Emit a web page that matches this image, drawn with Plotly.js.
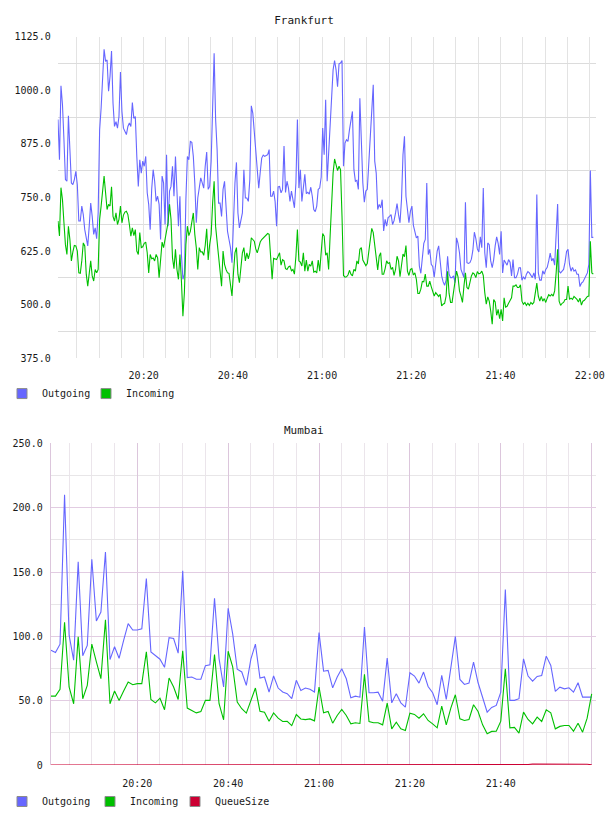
<!DOCTYPE html>
<html>
<head>
<meta charset="utf-8">
<script src="https://cdn.plot.ly/plotly-3.0.1.min.js"></script>
<style>
  html, body { margin: 0; padding: 0; background: #fff; }
  #chart { width: 608px; height: 816px; }
</style>
</head>
<body>
<div id="chart"></div>
<script>
// ---- Frankfurt: one sample every 20 s ----
const frankfurtStart = '2024-01-01 20:00:48';
const frankfurtStepSec = 20;
const frankfurtOutgoing = [
  932, 838, 1011, 967, 885, 792, 788, 941, 862, 784,
  780, 792, 811, 780, 695, 695, 730, 710, 675, 656,
  637, 683, 737, 706, 664, 679, 654, 714, 908, 959,
  1025, 1096, 1068, 1071, 998, 1033, 1092, 970, 916, 927,
  912, 939, 1043, 951, 912, 904, 897, 916, 924, 916,
  972, 935, 939, 846, 776, 838, 807, 835, 823, 846,
  761, 734, 675, 769, 815, 788, 741, 753, 734, 652,
  800, 784, 687, 850, 683, 765, 776, 823, 753, 846,
  745, 683, 753, 617, 559, 571, 745, 846, 838,
  881, 879, 846, 784, 691, 749, 772, 796, 784, 772,
  823, 856, 769, 776, 835, 978, 1087, 932, 862, 737,
  737, 706, 769, 788, 710, 671, 652, 633, 598, 699,
  784, 832, 714, 679, 699, 714, 815, 749, 749, 741,
  792, 964, 947, 904, 846, 796, 772, 809, 842, 849,
  846, 848, 850, 862, 753, 753, 765, 741, 683, 775,
  776, 761, 769, 870, 762, 788, 772, 741, 765, 745,
  726, 784, 932, 772, 815, 741, 776, 804, 759, 762,
  758, 774, 753, 722, 717, 730, 769, 772, 798, 912,
  850,
  978, 788, 846, 904, 967, 1048, 1070, 1048, 1009, 1062,
  1064, 1070, 823, 877, 885, 881, 908, 936, 951, 815,
  788, 790, 769, 982, 862, 784, 739, 765, 769, 838,
  901, 970, 1013, 835, 807, 722, 734, 726, 745, 672,
  699, 683, 703, 706, 710, 687, 696, 714, 736, 710,
  691, 745, 850, 893, 753, 722, 691, 718, 730, 685,
  668, 656, 660, 590, 573, 605, 643, 652, 784, 617,
  629, 594, 589, 564, 592, 625, 637, 598, 567, 553,
  545, 557, 613, 571, 563, 563, 567, 551, 656, 643,
  621,
  582, 571, 563, 739, 598, 596, 598, 606, 627, 669,
  654, 630, 623, 658, 633, 772, 621, 586, 644, 640,
  602, 586, 605, 637, 658, 643, 617, 671, 574, 604,
  599, 592, 605, 599, 567, 605, 563, 563, 571, 586,
  586, 557, 565, 559, 571, 577, 574, 568, 563, 574,
  559, 757, 574, 557, 557, 579, 571, 582, 587, 602,
  620, 602, 608, 592, 668, 735, 578, 574, 578, 582,
  599, 624, 629, 594, 578, 587, 578, 581, 571, 571,
  542, 550, 553, 559, 567, 574, 594, 813, 657, 657
];
const frankfurtIncoming = [
  695, 660, 773, 745, 691, 640, 617, 683, 652, 602,
  623, 638, 637, 625, 574, 573, 602, 644, 637, 571,
  543, 574, 602, 567, 555, 582, 574, 582, 699, 730,
  769, 800, 761, 722, 734, 730, 775, 706, 695, 714,
  687, 699, 730, 691, 709, 716, 718, 710, 687, 660,
  679, 661, 675, 625, 617, 668, 633, 635, 643, 646,
  621, 574, 617, 607, 609, 602, 617, 609, 563, 602,
  646, 633, 652, 664, 691, 734, 699, 609, 584, 629,
  582, 559, 617, 555, 473, 528, 640, 683, 661,
  671, 695, 714, 664, 633, 582, 633, 623, 623, 615,
  638, 677, 604, 640, 664, 738, 788, 682, 644, 621,
  574, 543, 625, 594, 582, 574, 573, 547, 520, 574,
  621, 633, 571, 551, 582, 621, 633, 602, 621, 607,
  621, 656, 652, 648, 630, 621, 633, 646, 652, 656,
  660, 664, 666, 664, 613, 559, 608, 607, 605, 613,
  621, 592, 605, 602, 584, 582, 588, 590, 579, 582,
  571, 613, 675, 602, 599, 590, 621, 578, 604, 578,
  594, 590, 602, 576, 578, 574, 604, 578, 627, 666,
  660,
  615, 621, 582, 660, 741, 807, 840, 829, 813, 823,
  815, 706, 568, 564, 565, 569, 580, 571, 567, 582,
  578, 602, 595, 629, 633, 604, 596, 591, 596, 621,
  656, 678, 668, 640, 605, 581, 613, 621, 571, 571,
  584, 602, 596, 598, 582, 587, 568, 582, 613, 602,
  565, 588, 618, 612, 638, 578, 568, 582, 584, 569,
  574, 559, 526, 526, 536, 554, 553, 571, 543, 543,
  555, 542, 529, 520, 528, 523, 519, 524, 497, 501,
  503, 520, 578, 526, 505, 505, 529, 551, 578, 565,
  532,
  520, 505, 543, 574, 540, 536, 551, 567, 574, 571,
  563, 577, 572, 573, 578, 568, 528, 501, 518, 508,
  485, 454, 512, 506, 475, 489, 467, 489, 462, 516,
  494, 496, 503, 508, 516, 543, 543, 546, 540, 540,
  546, 508, 501, 505, 498, 503, 498, 505, 501, 505,
  524, 550, 520, 508, 519, 508, 514, 505, 515, 523,
  520, 524, 520, 532, 574, 629, 508, 498, 503, 505,
  512, 512, 543, 512, 515, 512, 519, 516, 512, 506,
  515, 499, 508, 510, 516, 519, 520, 648, 574, 571
];
const frankfurtTicks = ['20:20', '20:40', '21:00', '21:20', '21:40', '22:00'];
const frankfurtYTicks = [375, 500, 625, 750, 875, 1000, 1125];

// ---- Mumbai: one sample per minute ----
const mumbaiStart = '2024-01-01 20:01:00';
const mumbaiStepSec = 60;
const mumbaiOutgoing = [
  89.3, 87.5, 94, 210, 101, 81.5, 158, 85, 93, 160,
  112, 119, 165.6, 82, 92, 83, 97, 110, 105, 105,
  106, 145, 88, 85.4, 82.3, 76, 99, 98.4, 87, 151,
  68, 68.5, 66.7, 66.7, 77.3, 78, 129.7, 82.8, 60.7, 121.9,
  102, 74.5, 72.4, 62, 82.3, 94, 67.7, 68.5, 56.8, 69.3,
  59.9, 56.8, 55.5, 51.6, 65.9, 58, 59.9, 58.9, 56.8, 103,
  73, 73.6, 60, 68.4, 74.9, 67.1, 52.3, 53.6, 52.8, 107.3,
  56.2, 56.2, 56.7, 49.7, 83.2, 48.4, 55.4, 48.4, 45, 71.8,
  69.2, 63.7, 72.3, 61.1, 56.2, 46.9, 69.7, 51, 74.9, 100,
  66.6, 62.7, 63.7, 80, 64, 52.8, 41.2, 44.8, 46.4, 56.7,
  136.5, 50.3, 50.3, 51.6, 82.6, 69.2, 65.3, 68.9, 69.7, 84.7,
  77.5, 57.3, 60.6, 59.3, 60.1, 56.7, 64, 52.8, 52.8, 52.8
];
const mumbaiIncoming = [
  53.6, 53.6, 58.9, 111, 60.7, 47.7, 99.7, 51.6, 62, 94,
  80.2, 67.2, 113, 47.7, 57.6, 50.3, 57.6, 64.6, 62.5, 63.3,
  63.3, 88, 51, 48.4, 52, 43, 67.7, 60.7, 51, 88.8,
  44.3, 42.4, 40.6, 41.7, 50.3, 50.3, 86, 47.7, 35.2, 88.5,
  76.3, 49, 43.8, 40.4, 50.3, 59.9, 41.9, 41.1, 34.1, 40.6,
  36.5, 33.9, 34.1, 30.7, 39.3, 35.9, 35.4, 35.9, 34.4, 60.7,
  40.7, 41.7, 32.6, 38.6, 43.3, 38.6, 32.1, 32.9, 32.4, 70.5,
  33.9, 32.9, 32.9, 31.3, 48.2, 28.2, 33.4, 28.2, 26.9, 40.4,
  39.4, 36.5, 39.9, 34.7, 32.1, 29, 45.9, 31.3, 44.3, 54.7,
  36, 34.7, 35.5, 46.9, 41.7, 31.3, 24.4, 26.2, 26.4, 34.2,
  74.9, 29, 29.3, 24.9, 41.2, 35.5, 32.1, 37.3, 33.9, 43,
  40.7, 28.2, 30.1, 30.8, 30.8, 26.4, 32.6, 25.6, 36.5, 55.4
];
const mumbaiQueueSize = [
  0, 0, 0, 0, 0, 0, 0, 0, 0, 0,
  0, 0, 0, 0, 0, 0, 0, 0, 0, 0,
  0, 0, 0, 0, 0, 0, 0, 0, 0, 0,
  0, 0, 0, 0, 0, 0, 0, 0, 0, 0,
  0, 0, 0, 0, 0, 0, 0, 0, 0, 0,
  0, 0, 0, 0, 0, 0, 0, 0, 0, 0,
  0, 0, 0, 0, 0, 0, 0, 0, 0, 0,
  0, 0, 0, 0, 0, 0, 0, 0, 0, 0,
  0, 0, 0, 0, 0, 0, 0, 0, 0, 0,
  0, 0, 0, 0, 0, 0, 0, 0, 0, 0,
  0, 0, 0, 0, 0, 0.5, 0.8, 0.8, 0.8, 0.9,
  0.8, 0.8, 0.8, 0.8, 0.9, 0.9, 0.8, 0.8, 0.7, 0.3
];
const mumbaiTicks = ['20:20', '20:40', '21:00', '21:20', '21:40', ''];
const mumbaiTickTimes = ['20:20', '20:40', '21:00', '21:20', '21:40', '22:00'];
const mumbaiYTicks = [0, 50, 100, 150, 200, 250];
const mumbaiYTickText = ['0', '50.0', '100.0', '150.0', '200.0', '250.0'];

// ---- helpers ----
const DAY = '2024-01-01';
const W = 608, H = 816;
const px = v => v / W;          // horizontal pixel -> paper fraction
const py = v => 1 - v / H;      // vertical pixel -> paper fraction
const pad = n => String(n).padStart(2, '0');

function timeline(start, stepSec, count) {
  const [d, t] = start.split(' ');
  const [h, m, s] = t.split(':').map(Number);
  const base = h * 3600 + m * 60 + s;
  const out = [];
  for (let i = 0; i < count; i++) {
    const v = base + i * stepSec;
    out.push(`${d} ${pad(Math.floor(v / 3600))}:${pad(Math.floor(v % 3600 / 60))}:${pad(v % 60)}`);
  }
  return out;
}

const MONO = 'DejaVu Sans Mono, monospace';
const TEXT = '#1a1a1a';
const C_OUT = '#6666ff';
const C_IN = '#00c000';
const C_Q = '#cc0033';

const fTimes = timeline(frankfurtStart, frankfurtStepSec, frankfurtOutgoing.length);
const mTimes = timeline(mumbaiStart, mumbaiStepSec, mumbaiOutgoing.length);

function line(x, y, color, xa, ya) {
  return { type: 'scatter', mode: 'lines', x, y, xaxis: xa, yaxis: ya,
           line: { color, width: 1.1 }, showlegend: false, hoverinfo: 'skip' };
}
// square legend key; each key sits in its own legend box so the spacing can be set freely
function key(name, color, legendId, xa, ya) {
  return { type: 'scatter', mode: 'markers', x: [null], y: [null], xaxis: xa, yaxis: ya,
           name, legend: legendId, showlegend: true,
           marker: { symbol: 'square', size: 10, color, line: { color: '#8c8c8c', width: 1 } } };
}
// xPix is the centre of the legend swatch
function legendBox(xPix, yPix) {
  return { orientation: 'h', x: px(xPix - 20), xanchor: 'left', y: py(yPix), yanchor: 'top',
           font: { family: MONO, size: 10, color: TEXT }, bgcolor: 'rgba(0,0,0,0)',
           itemwidth: 30, tracegroupgap: 0 };
}

const data = [
  line(fTimes, frankfurtOutgoing, C_OUT, 'x', 'y'),
  line(fTimes, frankfurtIncoming, C_IN, 'x', 'y'),
  line(mTimes, mumbaiOutgoing, C_OUT, 'x2', 'y2'),
  line(mTimes, mumbaiIncoming, C_IN, 'x2', 'y2'),
  line(mTimes, mumbaiQueueSize, C_Q, 'x2', 'y2'),
  key('Outgoing', C_OUT, 'legend', 'x', 'y'),
  key('Incoming', C_IN, 'legend2', 'x', 'y'),
  key('Outgoing', C_OUT, 'legend3', 'x2', 'y2'),
  key('Incoming', C_IN, 'legend4', 'x2', 'y2'),
  key('QueueSize', C_Q, 'legend5', 'x2', 'y2')
];

const tickFont = { family: MONO, size: 10, color: TEXT };

const layout = {
  width: W, height: H,
  margin: { l: 0, r: 0, t: 0, b: 0 },
  paper_bgcolor: '#ffffff', plot_bgcolor: '#ffffff',
  showlegend: true,
  title: { text: 'Frankfurt', font: { family: MONO, size: 11, color: TEXT },
           x: 0.5, xanchor: 'center', xref: 'container',
           y: py(20), yanchor: 'middle', yref: 'container' },
  annotations: [
    { text: 'Mumbai', xref: 'paper', yref: 'paper', x: 0.5, y: py(432),
      xanchor: 'center', yanchor: 'middle', showarrow: false,
      font: { family: MONO, size: 11, color: TEXT } }
  ],
  xaxis: {
    type: 'date', domain: [px(57.7), px(596)], anchor: 'y',
    range: [`${DAY} 20:00:44`, `${DAY} 22:01:24`],
    tickmode: 'array', tickvals: frankfurtTicks.map(t => `${DAY} ${t}`), ticktext: frankfurtTicks,
    ticks: '', showgrid: true, gridcolor: '#e3e3e3', gridwidth: 1,
    minor: { tickmode: 'linear', tick0: `${DAY} 20:00:00`, dtick: 300000, showgrid: true, gridcolor: '#e3e3e3', ticks: '' },
    zeroline: false, showline: false, tickfont: tickFont, ticklabelstandoff: 10,
    ticklabeloverflow: 'allow', fixedrange: true
  },
  yaxis: {
    domain: [py(359), py(37)], anchor: 'x',
    range: [375, 1125],
    tickmode: 'array', tickvals: frankfurtYTicks, tickformat: '.1f',
    ticks: '', showgrid: false,
    minor: { tickmode: 'linear', tick0: 437.5, dtick: 125, showgrid: true, gridcolor: '#dcdcdc', ticks: '' },
    zeroline: false, showline: false, tickfont: tickFont, ticklabelstandoff: 6, fixedrange: true
  },
  xaxis2: {
    type: 'date', domain: [px(50.7), px(596)], anchor: 'y2',
    range: [`${DAY} 20:00:57`, `${DAY} 22:00:57`],
    tickmode: 'array', tickvals: mumbaiTickTimes.map(t => `${DAY} ${t}`), ticktext: mumbaiTicks,
    ticks: '', showgrid: true, gridcolor: '#dcc6dc', gridwidth: 1,
    minor: { tickmode: 'linear', tick0: `${DAY} 20:00:00`, dtick: 300000, showgrid: true, gridcolor: '#ebe5eb', ticks: '' },
    zeroline: false, showline: false, tickfont: tickFont, ticklabelstandoff: 11, fixedrange: true
  },
  yaxis2: {
    domain: [py(767), py(444.5)], anchor: 'x2',
    range: [0, 250],
    tickmode: 'array', tickvals: mumbaiYTicks, ticktext: mumbaiYTickText,
    ticks: '', showgrid: true, gridcolor: '#e2cce2',
    minor: { tickmode: 'linear', tick0: 0, dtick: 25, showgrid: true, gridcolor: '#e8e6e8', ticks: '' },
    zeroline: false, showline: true, linecolor: '#dcc6dc', linewidth: 1,
    tickfont: tickFont, ticklabelstandoff: 5, fixedrange: true
  },
  legend: legendBox(22, 380),
  legend2: legendBox(106, 380),
  legend3: legendBox(22, 789),
  legend4: legendBox(110, 789),
  legend5: legendBox(195, 789)
};

Plotly.newPlot('chart', data, layout, { displayModeBar: false, staticPlot: true });
</script>
</body>
</html>
